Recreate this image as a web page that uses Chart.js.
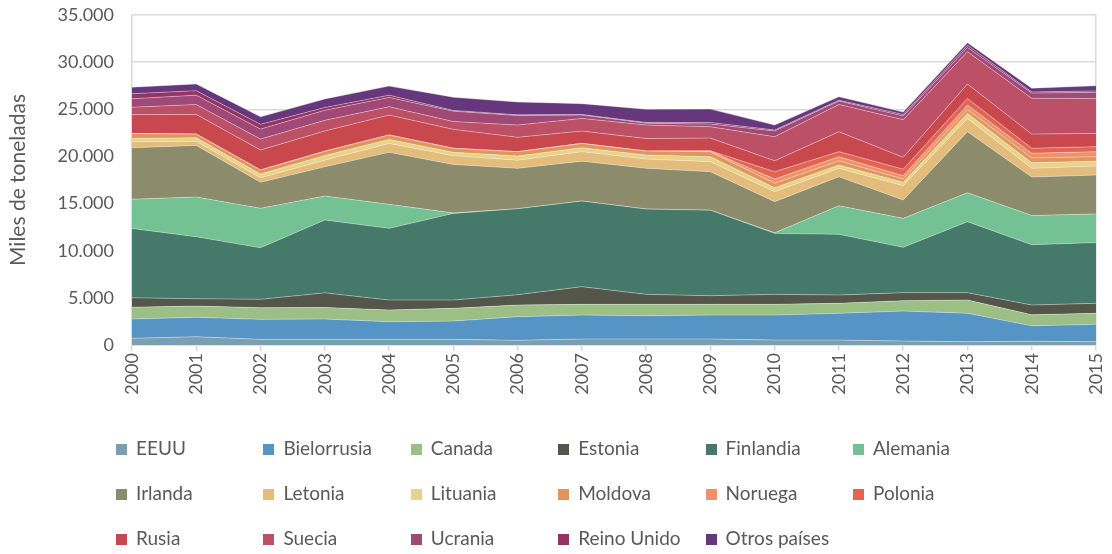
<!DOCTYPE html>
<html lang="es">
<head>
<meta charset="utf-8">
<title>Importaciones por país de origen</title>
<script src="https://cdn.jsdelivr.net/npm/chart.js@4/dist/chart.umd.min.js"></script>
<style>
    html, body { margin: 0; padding: 0; background: #fff; }
    #wrap { position: relative; width: 1112px; height: 554px; }
    #grafico { position: absolute; left: 0; top: 0; }
    #leyenda { position: absolute; left: 0; top: 0; width: 1112px; height: 554px; pointer-events: none; }
    .item { position: absolute; height: 24px; line-height: 24px; font-family: Lato, "Open Sans", sans-serif; font-size: 19px; color: #595959; white-space: nowrap; }
    .item span.caja { display: inline-block; width: 11px; height: 11px; margin-right: 9px; vertical-align: 0px; }
</style>
</head>
<body>
<div id="wrap">
    <canvas id="grafico" width="1112" height="410"></canvas>
    <div id="leyenda"></div>
</div>
<script>
// ===== DATOS (miles de toneladas) =====
const anios = ['2000', '2001', '2002', '2003', '2004', '2005', '2006', '2007',
               '2008', '2009', '2010', '2011', '2012', '2013', '2014', '2015'];

const eeuu        = [710, 880, 600, 600, 600, 600, 500, 640, 640, 640, 530, 530, 420, 350, 400, 350];
const bielorrusia = [2050, 2050, 2120, 2150, 1870, 1940, 2500, 2540, 2470, 2540, 2650, 2830, 3180, 3010, 1630, 1840];
const canada      = [1250, 1200, 1240, 1230, 1240, 1350, 1240, 1130, 1200, 1130, 1130, 1060, 1100, 1410, 1180, 1170];
const estonia     = [1000, 780, 890, 1550, 1060, 880, 1090, 1880, 1060, 920, 1060, 880, 850, 780, 1030, 1060];
const finlandia   = [7350, 6570, 5470, 7730, 7600, 9190, 9120, 9080, 9050, 9070, 6470, 6440, 4810, 7530, 6400, 6440];
const alemania    = [3100, 4220, 4180, 2540, 2550, 50, 0, 0, 0, 0, 60, 3030, 3070, 3070, 3100, 3040];
const irlanda     = [5450, 5470, 2750, 3100, 5510, 5140, 4290, 4230, 4320, 4080, 3300, 3080, 1950, 6470, 4070, 4130];
const letonia     = [650, 430, 500, 700, 950, 930, 860, 1000, 980, 1060, 1060, 890, 1520, 1410, 930, 950];
const lituania    = [350, 380, 380, 500, 420, 350, 450, 430, 430, 530, 420, 350, 350, 530, 600, 520];
const moldova     = [530, 390, 430, 450, 470, 430, 450, 450, 420, 530, 470, 450, 350, 420, 500, 470];
const noruega     = [0, 0, 0, 0, 0, 0, 0, 0, 0, 50, 450, 430, 350, 470, 500, 530];
const polonia     = [0, 0, 0, 0, 0, 0, 0, 0, 0, 50, 780, 530, 700, 700, 530, 530];
const rusia       = [2000, 2090, 2120, 2150, 2120, 2010, 1530, 1310, 1330, 1350, 1160, 2120, 1250, 1530, 1500, 1410];
const suecia      = [780, 1040, 1160, 1130, 880, 830, 1300, 1340, 1430, 1200, 2550, 2900, 4000, 3420, 3800, 3710];
const ucrania     = [900, 1000, 1060, 1060, 990, 1100, 1000, 360, 200, 280, 610, 350, 400, 460, 550, 650];
const reinoUnido  = [530, 470, 500, 300, 240, 80, 90, 60, 70, 170, 100, 100, 150, 240, 120, 150];
const otros       = [700, 710, 800, 900, 960, 1400, 1350, 1150, 1400, 1420, 530, 360, 250, 250, 400, 550];

const ticksY = [0, 5000, 10000, 15000, 20000, 25000, 30000, 35000];

const series = [
    ['EEUU', eeuu, '#7B9EB3'],
    ['Bielorrusia', bielorrusia, '#5594C4'],
    ['Canada', canada, '#9BBF85'],
    ['Estonia', estonia, '#545649'],
    ['Finlandia', finlandia, '#45796A'],
    ['Alemania', alemania, '#74C194'],
    ['Irlanda', irlanda, '#8C8B6C'],
    ['Letonia', letonia, '#E4BC7B'],
    ['Lituania', lituania, '#E7D48A'],
    ['Moldova', moldova, '#E0955A'],
    ['Noruega', noruega, '#F0916E'],
    ['Polonia', polonia, '#E2654F'],
    ['Rusia', rusia, '#C9484E'],
    ['Suecia', suecia, '#BC5066'],
    ['Ucrania', ucrania, '#A04876'],
    ['Reino Unido', reinoUnido, '#943462'],
    ['Otros países', otros, '#66377D']
];

const GRIS_TEXTO = '#595959';
const GRIS_LINEA = '#d9d9d9';

function formatoMiles(v) {
    return String(v).replace(/\B(?=(\d{3})+(?!\d))/g, '.');
}

// ===== GRÁFICO =====
const datasets = series.map((s, i) => ({
    label: s[0],
    data: s[1],
    backgroundColor: s[2],
    borderColor: 'rgba(255,255,255,0.35)',
    borderWidth: 1,
    pointRadius: 0,
    tension: 0,
    fill: i === 0 ? 'origin' : '-1'
}));

const ctx = document.getElementById('grafico').getContext('2d');
new Chart(ctx, {
    type: 'line',
    data: { labels: anios, datasets: datasets },
    options: {
        responsive: false,
        animation: false,
        layout: { padding: { top: 15, right: 16, left: 0, bottom: 0 } },
        plugins: {
            legend: { display: false },
            tooltip: { enabled: false }
        },
        scales: {
            x: {
                offset: false,
                grid: {
                    color: c => (c.index === 0 || c.index === anios.length - 1) ? GRIS_LINEA : 'rgba(0,0,0,0)',
                    tickColor: GRIS_LINEA,
                    tickLength: 6,
                    lineWidth: 1.5
                },
                border: { color: GRIS_LINEA, width: 1.5 },
                ticks: {
                    minRotation: 90,
                    maxRotation: 90,
                    autoSkip: false,
                    padding: 2,
                    color: GRIS_TEXTO,
                    font: { family: 'Lato', size: 18 }
                },
                afterFit: s => {
                    s.height = 65;
                    s.paddingLeft = 0;
                    s.paddingRight = 0;
                }
            },
            y: {
                stacked: true,
                min: 0,
                max: 35000,
                afterBuildTicks: s => { s.ticks = ticksY.map(v => ({ value: v })); },
                grid: { color: GRIS_LINEA, drawTicks: false, lineWidth: 1.5 },
                border: { display: false },
                ticks: {
                    padding: 18,
                    color: GRIS_TEXTO,
                    font: { family: 'Lato', size: 18 },
                    callback: v => formatoMiles(v)
                },
                title: {
                    display: true,
                    text: 'Miles de toneladas',
                    color: GRIS_TEXTO,
                    font: { family: 'Lato', size: 21 },
                    padding: { top: 6, bottom: 0 }
                },
                afterFit: s => {
                    s.width = 132;
                    s.paddingTop = 0;
                    s.paddingBottom = 0;
                }
            }
        }
    }
});

// ===== LEYENDA =====
const leyenda = document.getElementById('leyenda');
series.forEach((s, i) => {
    const col = i % 6;
    const fila = Math.floor(i / 6);
    const div = document.createElement('div');
    div.className = 'item';
    div.style.left = (116 + col * 147.4) + 'px';
    div.style.top = (436 + fila * 45) + 'px';
    div.innerHTML = '<span class="caja" style="background:' + s[2] + '"></span>' + s[0];
    leyenda.appendChild(div);
});
</script>
</body>
</html>
